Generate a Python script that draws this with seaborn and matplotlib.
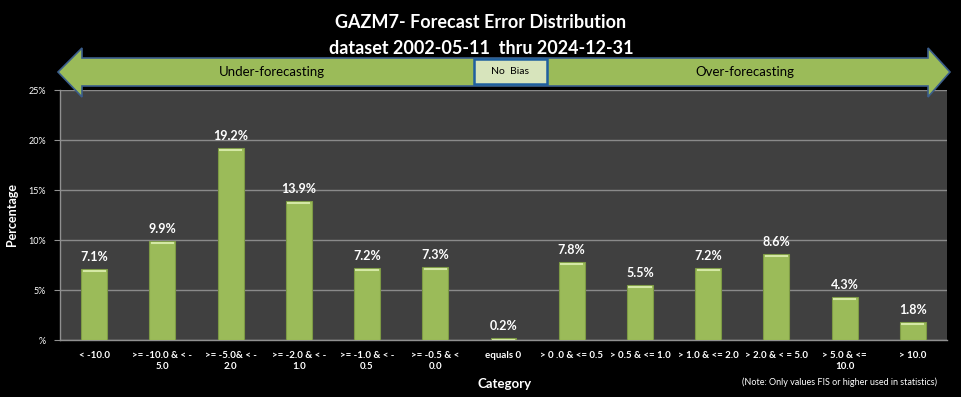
import matplotlib
matplotlib.use("Agg")
import matplotlib.pyplot as plt
import matplotlib.patches as mpatches
import seaborn as sns
import pandas as pd

categories = ["< -10.0", ">= -10.0 & < -\n5.0", ">= -5.0& < -\n2.0", ">= -2.0 & < -\n1.0",
              ">= -1.0 & < -\n0.5", ">= -0.5 & <\n0.0", "equals 0", "> 0 .0 & <= 0.5",
              "> 0.5 & <= 1.0", "> 1.0 & <= 2.0", "> 2.0 & < = 5.0", "> 5.0 & <=\n10.0", "> 10.0"]
percentages = [7.1, 9.9, 19.2, 13.9, 7.2, 7.3, 0.2, 7.8, 5.5, 7.2, 8.6, 4.3, 1.8]
yticks = [0, 5, 10, 15, 20, 25]
ytick_labels = ["%", "5%", "10%", "15%", "20%", "25%"]

sns.set_style("dark")
plt.rcParams['font.family'] = ['Lato', 'DejaVu Sans']

W, H = 961, 397
fig = plt.figure(figsize=(W / 100, H / 100), dpi=100, facecolor="black")
ax = fig.add_axes([60 / W, 1 - 340 / H, (947 - 60) / W, (340 - 90) / H])
ax.set_facecolor("#404040")

df = pd.DataFrame({"Category": categories, "Percentage": percentages})
sns.barplot(data=df, x="Category", y="Percentage", color="#9bbb59", width=0.38,
            edgecolor="#7d9a45", linewidth=0.8, saturation=1, ax=ax, zorder=3)

# thin highlight on top of each bar
for i, v in enumerate(percentages):
    ax.plot([i - 0.17, i + 0.17], [v - 0.15, v - 0.15], color="#d4e8a4", linewidth=1.5,
            zorder=4, solid_capstyle="butt")
    ax.text(i, v + 0.6, f"{v:.1f}%", ha="center", va="bottom", color="white",
            fontsize=9, fontweight="bold")

ax.set_ylim(0, 25)
ax.set_xlim(-0.5, len(categories) - 0.5)
ax.set_yticks(yticks)
ax.set_yticklabels(ytick_labels, color="white", fontsize=6.5)
ax.set_xticks(range(len(categories)))
ax.set_xticklabels(categories, color="white", fontsize=7, fontweight="bold")
ax.set_xticks([i + 0.5 for i in range(-1, len(categories))], minor=True)
ax.tick_params(axis="x", which="major", length=0, pad=8)
ax.tick_params(axis="x", which="minor", length=4, color="#909090", width=0.8)
ax.tick_params(axis="y", length=4, color="#909090", pad=6, left=True)
ax.grid(axis="y", color="#8a8a8a", linewidth=1, zorder=0)
ax.grid(axis="x", visible=False)
for s in ["top", "right"]:
    ax.spines[s].set_visible(False)
for s in ["left", "bottom"]:
    ax.spines[s].set_color("#909090")
    ax.spines[s].set_linewidth(1)

ax.set_ylabel("Percentage", color="white", fontsize=9, fontweight="bold")
ax.yaxis.set_label_coords(-(60 - 18) / (947 - 60), 0.5)
ax.set_xlabel("Category", color="white", fontsize=9.5, fontweight="bold")
ax.xaxis.set_label_coords((505 - 60) / (947 - 60), -0.15)

fig.text(481 / W, 1 - 22 / H, "GAZM7- Forecast Error Distribution", color="white",
         fontsize=13, fontweight="bold", ha="center", va="center")
fig.text(481 / W, 1 - 48 / H, "dataset 2002-05-11  thru 2024-12-31", color="white",
         fontsize=13, fontweight="bold", ha="center", va="center")


def px(x, y):
    return (x / W, 1 - y / H)


arrow = [px(58, 72), px(82, 48), px(82, 58), px(928, 58), px(928, 48), px(950, 72),
         px(928, 97), px(928, 86), px(82, 86), px(82, 97)]
fig.patches.append(mpatches.Polygon(arrow, closed=True, facecolor="#9bbb59", edgecolor="#3b5e8c",
                                    linewidth=1.2, transform=fig.transFigure, zorder=5))
bx0, by0 = px(474, 84)
bx1, by1 = px(547, 59)
fig.patches.append(mpatches.Rectangle((bx0, by0), bx1 - bx0, by1 - by0, facecolor="#d7e4bc",
                                      edgecolor="#1f5f9f", linewidth=1.8,
                                      transform=fig.transFigure, zorder=6))
fig.text(272 / W, 1 - 72 / H, "Under-forecasting", fontsize=9.5, ha="center", va="center",
         color="black", zorder=7)
fig.text(510 / W, 1 - 72 / H, "No  Bias", fontsize=7.5, ha="center", va="center",
         color="black", zorder=7)
fig.text(745 / W, 1 - 72 / H, "Over-forecasting", fontsize=9.5, ha="center", va="center",
         color="black", zorder=7)
fig.text(937 / W, 1 - 382 / H, "(Note: Only values FIS or higher used in statistics)",
         fontsize=6.5, ha="right", va="center", color="white")

fig.savefig("out.png", dpi=100, facecolor="black")
